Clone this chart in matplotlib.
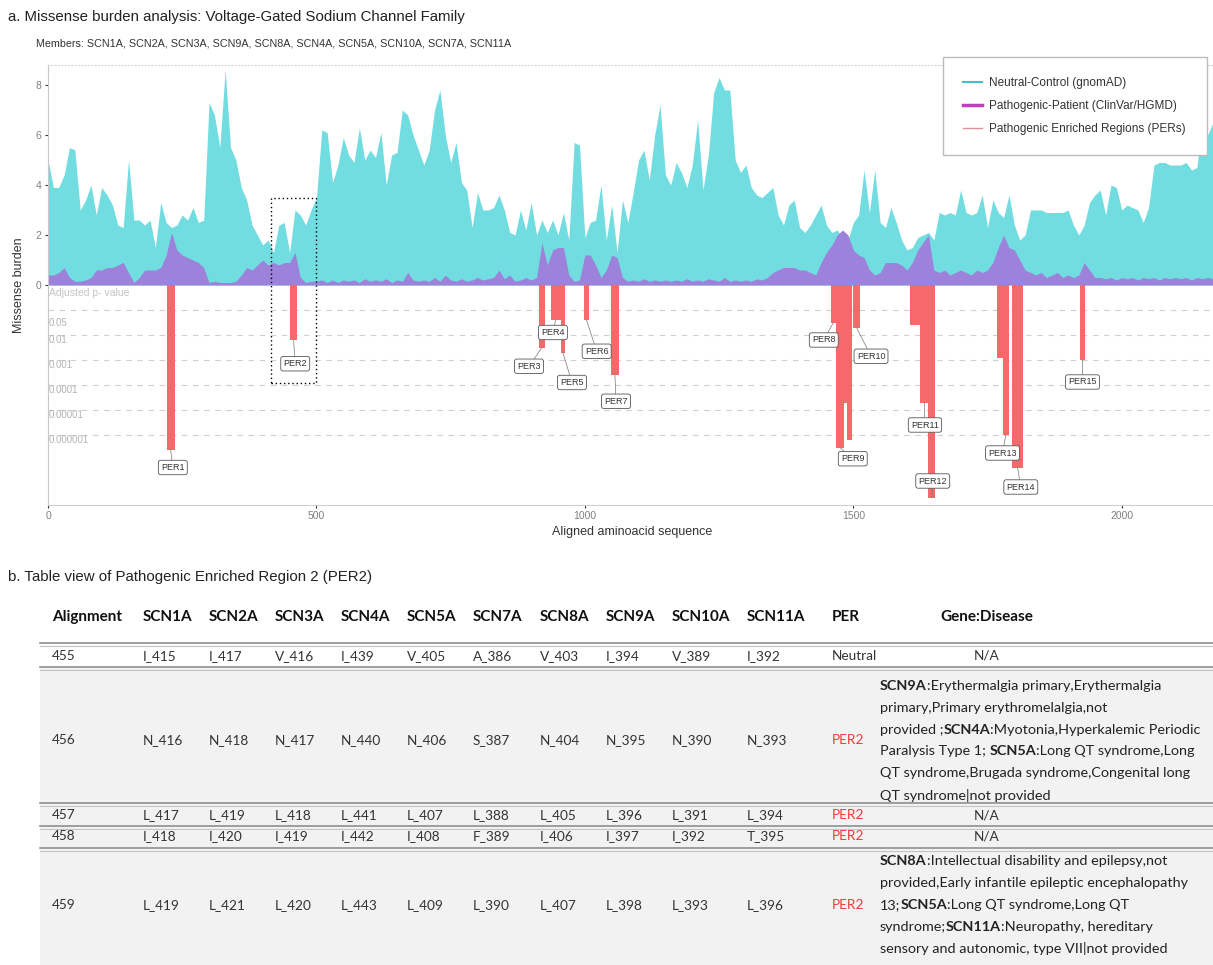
import numpy as np
import matplotlib
matplotlib.use('Agg')
import matplotlib.pyplot as plt
from matplotlib.lines import Line2D
from matplotlib.patches import Rectangle

# ── Missense burden profiles (aligned aa position, sampled every 10 aa) ──
POSITIONS = np.arange(0, 2171, 10)

NEUTRAL = [
    5.0, 3.9, 3.9, 4.4, 5.5, 5.4, 3.0, 3.4, 4.0, 2.8,
    3.9, 3.6, 3.2, 2.4, 2.3, 5.0, 2.6, 2.6, 2.4, 2.6,
    1.5, 3.3, 2.5, 2.3, 2.4, 2.8, 2.6, 3.1, 2.5, 2.6,
    7.3, 6.8, 5.5, 8.6, 5.5, 5.0, 3.9, 3.4, 2.4, 2.0,
    1.6, 1.8, 1.3, 2.4, 2.5, 1.3, 3.0, 2.8, 2.4, 3.0,
    3.5, 6.2, 6.1, 4.1, 4.8, 5.9, 5.2, 4.9, 6.3, 5.0,
    5.4, 5.1, 6.1, 4.0, 5.2, 5.3, 7.0, 6.8, 6.0, 5.4,
    4.8, 5.4, 7.0, 7.8, 6.0, 4.9, 5.7, 4.1, 3.8, 2.3,
    3.7, 3.0, 3.0, 3.1, 3.6, 3.0, 2.1, 2.0, 3.0, 2.2,
    3.3, 2.0, 2.6, 2.1, 2.6, 2.0, 2.9, 1.8, 5.7, 5.6,
    1.9, 2.5, 2.6, 4.0, 1.8, 3.2, 1.3, 3.4, 2.5, 3.7,
    5.0, 5.4, 4.2, 6.0, 7.2, 4.4, 4.0, 4.9, 4.5, 3.9,
    4.8, 6.6, 3.8, 5.2, 7.7, 8.3, 7.8, 7.8, 5.0, 4.5,
    4.8, 3.9, 3.6, 3.5, 3.7, 3.9, 2.8, 2.4, 3.2, 3.4,
    2.3, 2.1, 2.4, 2.8, 3.2, 2.4, 2.1, 2.2, 1.9, 1.8,
    2.5, 2.8, 4.6, 2.9, 4.6, 2.5, 2.3, 3.1, 2.5, 1.8,
    1.4, 1.5, 1.9, 2.0, 2.1, 1.8, 2.9, 2.8, 2.9, 2.8,
    3.8, 2.9, 2.8, 2.9, 3.6, 2.3, 3.4, 2.9, 2.7, 3.6,
    2.4, 1.8, 2.0, 3.0, 3.0, 3.0, 2.9, 2.9, 2.9, 2.9,
    3.0, 2.4, 2.0, 2.4, 3.3, 3.6, 3.8, 2.8, 4.0, 3.9,
    3.0, 3.2, 3.1, 3.0, 2.5, 3.1, 4.8, 4.9, 4.9, 4.8,
    4.8, 4.8, 4.9, 4.6, 4.7, 6.6, 6.0, 6.5,
]

PATHOGENIC = [
    0.4, 0.4, 0.5, 0.7, 0.3, 0.15, 0.15, 0.2, 0.3, 0.6,
    0.6, 0.7, 0.7, 0.8, 0.9, 0.5, 0.1, 0.3, 0.6, 0.6,
    0.6, 0.7, 1.2, 2.1, 1.4, 1.2, 1.1, 1.0, 0.9, 0.7,
    0.1, 0.15, 0.1, 0.1, 0.1, 0.15, 0.4, 0.7, 0.6, 0.8,
    1.0, 0.8, 0.9, 0.8, 0.9, 0.9, 1.3, 0.3, 0.1, 0.15,
    0.15, 0.2, 0.1, 0.2, 0.1, 0.2, 0.15, 0.2, 0.1, 0.25,
    0.15, 0.2, 0.15, 0.25, 0.1, 0.2, 0.15, 0.5, 0.2, 0.15,
    0.2, 0.15, 0.3, 0.15, 0.4, 0.2, 0.15, 0.25, 0.15, 0.2,
    0.3, 0.2, 0.25, 0.3, 0.6, 0.25, 0.4, 0.15, 0.2, 0.3,
    0.2, 0.3, 1.7, 0.8, 1.4, 1.5, 1.5, 0.4, 0.15, 0.2,
    1.2, 1.2, 0.8, 0.3, 0.6, 1.2, 1.1, 0.3, 0.15, 0.2,
    0.15, 0.25, 0.15, 0.2, 0.15, 0.2, 0.15, 0.2, 0.15, 0.25,
    0.15, 0.2, 0.15, 0.25, 0.2, 0.15, 0.3, 0.15, 0.2, 0.15,
    0.2, 0.15, 0.25, 0.2, 0.3, 0.5, 0.6, 0.7, 0.7, 0.7,
    0.6, 0.6, 0.5, 0.4, 0.9, 1.3, 1.6, 2.0, 2.2, 2.0,
    1.4, 1.2, 1.1, 0.6, 0.4, 0.5, 0.9, 0.9, 0.9, 0.8,
    0.6, 0.9, 1.4, 1.7, 2.0, 0.6, 0.5, 0.6, 0.4, 0.5,
    0.6, 0.5, 0.4, 0.6, 0.5, 0.6, 0.9, 1.5, 2.0, 1.5,
    1.4, 1.0, 0.6, 0.5, 0.4, 0.5, 0.3, 0.4, 0.5, 0.3,
    0.4, 0.3, 0.4, 0.9, 0.6, 0.3, 0.3, 0.25, 0.3, 0.2,
    0.3, 0.25, 0.3, 0.2, 0.3, 0.25, 0.3, 0.2, 0.3, 0.25,
    0.3, 0.25, 0.3, 0.2, 0.3, 0.25, 0.3, 0.25,
]

# ── Pathogenic enriched regions: segments (start, end, -log10 adj. p) ──
SEG_PER = ['PER1', 'PER2', 'PER3', 'PER4', 'PER5', 'PER6', 'PER7', 'PER8',
           'PER9', 'PER9', 'PER9', 'PER10', 'PER11', 'PER11', 'PER12',
           'PER13', 'PER13', 'PER14', 'PER15']
SEG_START = [221, 451, 914, 936, 955, 998, 1048, 1458, 1468, 1482, 1488, 1500,
             1605, 1625, 1640, 1768, 1778, 1796, 1922]
SEG_END = [236, 464, 926, 955, 963, 1008, 1064, 1468, 1482, 1488, 1498, 1512,
           1625, 1640, 1652, 1778, 1790, 1816, 1932]
SEG_LOGP = [6.6, 2.2, 2.5, 1.4, 2.7, 1.4, 3.6, 1.5, 6.5, 4.7, 6.2, 1.7,
            1.6, 4.7, 8.5, 2.9, 6.0, 7.3, 3.0]
PER_NAMES = ['PER%d' % i for i in range(1, 16)]

P_GRID = [1, 2, 3, 4, 5, 6]
P_LABELS = ['0.05', '0.01', '0.001', '0.0001', '0.00001', '0.000001']
HIGHLIGHT = (415, 500, 3.5, -3.9)   # dotted box around PER2

# ── Table data ──
TABLE_HEADER = ['Alignment', 'SCN1A', 'SCN2A', 'SCN3A', 'SCN4A', 'SCN5A', 'SCN7A',
                'SCN8A', 'SCN9A', 'SCN10A', 'SCN11A', 'PER']
ROW_455 = ['455', 'I_415', 'I_417', 'V_416', 'I_439', 'V_405', 'A_386', 'V_403',
           'I_394', 'V_389', 'I_392', 'Neutral']
ROW_456 = ['456', 'N_416', 'N_418', 'N_417', 'N_440', 'N_406', 'S_387', 'N_404',
           'N_395', 'N_390', 'N_393', 'PER2']
ROW_457 = ['457', 'L_417', 'L_419', 'L_418', 'L_441', 'L_407', 'L_388', 'L_405',
           'L_396', 'L_391', 'L_394', 'PER2']
ROW_458 = ['458', 'I_418', 'I_420', 'I_419', 'I_442', 'I_408', 'F_389', 'I_406',
           'I_397', 'I_392', 'T_395', 'PER2']
ROW_459 = ['459', 'L_419', 'L_421', 'L_420', 'L_443', 'L_409', 'L_390', 'L_407',
           'L_398', 'L_393', 'L_396', 'PER2']
DISEASE_456 = [
    [('SCN9A', True), (':Erythermalgia primary,Erythermalgia', False)],
    [('primary,Primary erythromelalgia,not', False)],
    [('provided ;', False), ('SCN4A', True), (':Myotonia,Hyperkalemic Periodic', False)],
    [('Paralysis Type 1; ', False), ('SCN5A', True), (':Long QT syndrome,Long', False)],
    [('QT syndrome,Brugada syndrome,Congenital long', False)],
    [('QT syndrome|not provided', False)],
]
DISEASE_459 = [
    [('SCN8A', True), (':Intellectual disability and epilepsy,not', False)],
    [('provided,Early infantile epileptic encephalopathy', False)],
    [('13;', False), ('SCN5A', True), (':Long QT syndrome,Long QT', False)],
    [('syndrome;', False), ('SCN11A', True), (':Neuropathy, hereditary', False)],
    [('sensory and autonomic, type VII|not provided', False)],
]

# ── styles / layout ──
CYAN = '#72dde0'
PURPLE = '#9c82da'
RED = '#f7686b'
PFONT = 'Liberation Sans'
TFONT = 'Lato'
TFS = 9.8      # table values
DFS = 10.4     # disease text
HFS = 11.0     # table header
LABEL_OFFSET = {
    'PER1': (4, -0.7), 'PER2': (3, -0.95), 'PER3': (-24, -0.75), 'PER4': (-5, -0.5),
    'PER5': (17, -1.2), 'PER6': (19, -1.25), 'PER7': (2, -1.05), 'PER8': (-18, -0.7),
    'PER9': (24, -0.45), 'PER10': (27, -1.15), 'PER11': (1, -0.9), 'PER12': (2, 0.66),
    'PER13': (-6, -0.72), 'PER14': (6, -0.78), 'PER15': (0, -0.88),
}

W, H = 1213, 965
fig = plt.figure(figsize=(W / 100, H / 100), dpi=100)
plt.rcParams['font.family'] = [PFONT, 'DejaVu Sans']

bg = fig.add_axes([0, 0, 1, 1], zorder=0)
bg.set_xlim(0, W)
bg.set_ylim(H, 0)
bg.axis('off')

ax = fig.add_axes([48 / W, 1 - 505 / H, (W - 48) / W, 440 / H], zorder=1)
ax.set_facecolor('none')

# ── a. burden profile ──
ax.fill_between(POSITIONS, 0, NEUTRAL, color=CYAN, lw=0, zorder=2)
ax.fill_between(POSITIONS, 0, PATHOGENIC, color=PURPLE, lw=0, zorder=2.5)

widths = [e - s for s, e in zip(SEG_START, SEG_END)]
ax.bar(SEG_START, [-v for v in SEG_LOGP], width=widths, align='edge',
       color=RED, lw=0, zorder=3)

for g in P_GRID:
    ax.axhline(-g, color='#cfcfcf', lw=0.8, ls=(0, (5, 5)), zorder=1)
for lab in P_LABELS:
    ax.text(2, np.log10(float(lab)) - 0.2, lab, fontsize=7, color='#b3b3b3',
            ha='left', va='center', zorder=1.5)
ax.text(2, -0.3, 'Adjusted p- value', fontsize=7.5, color='#c4c4c4',
        ha='left', va='center', zorder=1.5)

for name in PER_NAMES:
    idx = [i for i, p in enumerate(SEG_PER) if p == name]
    k = max(idx, key=lambda i: SEG_LOGP[i])
    tx = (SEG_START[k] + SEG_END[k]) / 2
    ty = -SEG_LOGP[k]
    dx, dy = LABEL_OFFSET[name]
    ax.annotate(name, xy=(tx, ty), xytext=(tx + dx, ty + dy), ha='center', va='center',
                fontsize=6.5, color='#333333', zorder=6,
                bbox=dict(boxstyle='round,pad=0.3,rounding_size=0.25', fc='white',
                          ec='#555555', lw=0.6),
                arrowprops=dict(arrowstyle='-', color='#777777', lw=0.5,
                                shrinkA=0, shrinkB=0))

x0, x1, y0, y1 = HIGHLIGHT
ax.add_patch(Rectangle((x0, y1), x1 - x0, y0 - y1, fill=False, ec='black',
                       lw=1.0, ls=(0, (1, 2)), zorder=7))

ax.set_xlim(0, 2170)
ax.set_ylim(-8.8, 8.8)
ax.set_xticks([0, 500, 1000, 1500, 2000])
ax.set_yticks([0, 2, 4, 6, 8])
ax.tick_params(length=2.5, width=0.8, color='#333333', labelcolor='#808080',
               labelsize=7.5, pad=2)
ax.spines['right'].set_visible(False)
ax.spines['left'].set_color('#c8c8c8')
ax.spines['bottom'].set_color('#d0d0d0')
ax.spines['top'].set_color('#d6d6d6')
ax.spines['top'].set_linestyle((0, (1, 2)))

handles = [Line2D([], [], color='#3fc2c8', lw=1.5),
           Line2D([], [], color='#c13fbf', lw=2.5),
           Line2D([], [], color='#e3909b', lw=1.0)]
labels = ['Neutral-Control (gnomAD)', 'Pathogenic-Patient (ClinVar/HGMD)',
          'Pathogenic Enriched Regions (PERs)']
leg = ax.legend(handles, labels, loc='upper right', bbox_to_anchor=(0.9995, 1.032),
                fontsize=8.5, frameon=True, fancybox=False, edgecolor='#bbbbbb',
                borderpad=1.75, labelspacing=0.9, handlelength=1.6, handletextpad=0.6,
                framealpha=1)
leg.set_zorder(10)
for t in leg.get_texts():
    t.set_color('#333333')

bg.text(632, 532, 'Aligned aminoacid sequence', fontsize=9, color='#333333',
        ha='center', va='center')
bg.text(19, 285, 'Missense burden', fontsize=9, color='#333333', rotation=90,
        ha='center', va='center')

bg.text(8, 17, 'a. Missense burden analysis: Voltage-Gated Sodium Channel Family',
        fontsize=10.8, color='#222222', ha='left', va='center')
bg.text(36, 43, 'Members: SCN1A, SCN2A, SCN3A, SCN9A, SCN8A, SCN4A, SCN5A, SCN10A, SCN7A, SCN11A',
        fontsize=7.75, color='#333333', ha='left', va='center')
bg.text(8, 577, 'b. Table view of Pathogenic Enriched Region 2 (PER2)',
        fontsize=10.8, color='#222222', ha='left', va='center')

# ── b. table ──
COL_X = [52, 143, 209, 275, 341, 407, 473, 540, 606, 672, 747, 832]
DIS_CENTER, DIS_LEFT = 987, 880
bg.add_patch(Rectangle((40, 668), W - 40, H - 668, fc='#f2f2f2', ec='none'))

for y in [643, 667, 803, 826, 848]:
    bg.plot([40, W], [y, y], color='#8f8f8f', lw=1.2)
    bg.plot([40, W], [y + 2.5, y + 2.5], color='#c4c4c4', lw=0.8)

for x, h in zip(COL_X, TABLE_HEADER):
    bg.text(x, 617, h, family=TFONT, fontsize=HFS, fontweight='bold', color='#111111',
            ha='left', va='center')
bg.text(DIS_CENTER, 617, 'Gene:Disease', family=TFONT, fontsize=HFS, fontweight='bold',
        color='#111111', ha='center', va='center')

renderer = fig.canvas.get_renderer()


def seg_width(s, **kw):
    t = bg.text(0, 0, '|' + s + '|', **kw)
    w = t.get_window_extent(renderer).width
    t.set_text('||')
    w0 = t.get_window_extent(renderer).width
    t.remove()
    return w - w0


def draw_rich(x0, yc, lines, spacing=21.8):
    n = len(lines)
    for j, parts in enumerate(lines):
        y = yc + (j - (n - 1) / 2) * spacing
        x = x0
        for s, b in parts:
            kw = dict(family=TFONT, fontsize=DFS, fontweight='bold' if b else 'normal',
                      color='#222222')
            bg.text(x, y, s, ha='left', va='center', **kw)
            x += seg_width(s, **kw)


rows = [(ROW_455, 656, None), (ROW_456, 740.5, DISEASE_456), (ROW_457, 815, None),
        (ROW_458, 836.5, None), (ROW_459, 905, DISEASE_459)]
for vals, y, dis in rows:
    for x, v in zip(COL_X, vals):
        col = '#ee3b3b' if v.startswith('PER') else '#333333'
        bg.text(x, y, v, family=TFONT, fontsize=TFS, color=col, ha='left', va='center')
    if dis is None:
        bg.text(DIS_CENTER, y, 'N/A', family=TFONT, fontsize=TFS, color='#333333',
                ha='center', va='center')
    else:
        draw_rich(DIS_LEFT, y, dis)

fig.savefig('out.png', dpi=100)
